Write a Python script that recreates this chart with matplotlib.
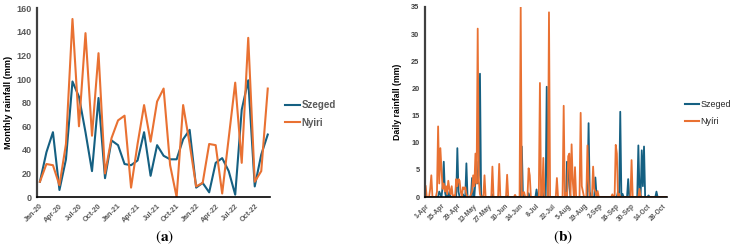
import matplotlib
matplotlib.use("Agg")
import matplotlib.pyplot as plt
from matplotlib.lines import Line2D

plt.rcParams['font.family'] = ['Liberation Sans', 'DejaVu Sans']
plt.rcParams['mathtext.fontset'] = 'stix'

# ---------------- data ----------------
months = ['Jan-20', 'Feb-20', 'Mar-20', 'Apr-20', 'May-20', 'Jun-20', 'Jul-20', 'Aug-20', 'Sep-20',
          'Oct-20', 'Nov-20', 'Dec-20', 'Jan-21', 'Feb-21', 'Mar-21', 'Apr-21', 'May-21', 'Jun-21',
          'Jul-21', 'Aug-21', 'Sep-21', 'Oct-21', 'Nov-21', 'Dec-21', 'Jan-22', 'Feb-22', 'Mar-22',
          'Apr-22', 'May-22', 'Jun-22', 'Jul-22', 'Aug-22', 'Sep-22', 'Oct-22', 'Nov-22', 'Dec-22']
szeged_monthly = [13, 38, 55, 6, 32, 98, 85, 55, 22, 84, 16, 48, 44, 28, 27, 31, 55, 18,
                  44, 35, 32, 32, 49, 57, 8, 12, 4, 29, 33, 22, 2, 74, 99, 9, 36, 53]
nyiri_monthly = [13, 28, 27, 10, 45, 151, 60, 139, 52, 122, 20, 50, 65, 69, 8, 45, 78, 47,
                 81, 92, 27, 0, 78, 45, 9, 12, 45, 44, 3, 50, 97, 29, 135, 13, 22, 92]

daily_tick_labels = ['1-Apr', '15-Apr', '29-Apr', '13-May', '27-May', '10-Jun', '24-Jun', '8-Jul',
                     '22-Jul', '5-Aug', '19-Aug', '2-Sep', '16-Sep', '30-Sep', '14-Oct', '28-Oct']

# daily rainfall, 1 Apr .. 31 Oct (rows of 14 days)
nyiri_daily = (
    [2.0, 0, 0, 0, 1.5, 4.0, 0, 0, 0, 0, 1.0, 13.0, 2.5, 9.0] +
    [5.0, 1.5, 2.5, 1.0, 2.0, 0.5, 3.0, 1.5, 0.5, 2.0, 0, 0.3, 0, 3.3] +
    [2.0, 3.3, 3.0, 1.0, 0, 1.8, 1.5, 1.8, 0.5, 0, 0, 0, 0.5, 1.0] +
    [4.0, 2.0, 8.0, 2.5, 31.0, 3.0, 0.5, 0, 0, 0, 4.0, 0, 0, 0] +
    [0, 0, 0, 5.6, 0, 0, 0, 0, 0, 6.1, 0, 0, 0, 0] +
    [0, 0, 4.1, 0, 0, 0, 0, 0, 0, 0.4, 0, 0, 0, 0] +
    [35.0, 0, 0.8, 0.9, 0, 0, 0, 5.3, 4.0, 0, 0, 0, 0, 0] +
    [0, 0, 0, 21.0, 0, 0, 7.2, 0, 0, 0, 0, 34.0, 0, 0] +
    [0, 0, 0, 0, 3.5, 0, 0, 0, 0, 0, 16.8, 0, 0.8, 0] +
    [7.5, 8.0, 0, 9.7, 3.0, 0, 5.5, 0, 0, 0, 0, 15.5, 2.0, 1.0] +
    [0, 0, 0, 9.5, 3.0, 0, 0, 0, 5.6, 1.5, 1.0, 0, 1.1, 0] +
    [0, 0, 0, 0, 0, 0, 0, 0, 0, 0, 0, 0.5, 0, 0] +
    [9.6, 8.0, 0, 0.6, 0, 0, 0, 0, 0, 0, 0, 0, 0, 0] +
    [6.8, 0, 0, 0, 0, 0, 0, 1.5, 0, 0, 0, 0, 0, 0] +
    [0, 0, 0, 0, 0, 0, 0, 0, 0, 0, 0, 0, 0, 0] +
    [0, 0, 0, 0]
)
szeged_daily = (
    [0, 0, 0, 0, 0, 0, 0, 0, 0, 0, 0, 0, 1.0, 0.5] +
    [0, 2.0, 6.5, 1.0, 0, 0.5, 0, 1.0, 0, 0, 0, 0, 0, 0] +
    [9.0, 1.0, 0, 0, 0, 0.5, 0, 0, 6.2, 0, 0, 0, 0, 3.5] +
    [0, 0, 3.0, 6.5, 2.5, 4.0, 22.7, 0.5, 0, 0, 0, 0, 0, 0] +
    [0, 0, 0, 0.5, 0, 0, 0, 0, 0, 0, 0, 0, 0, 0] +
    [0, 0, 0.3, 0, 0, 0, 0, 0, 0, 0, 0, 0, 0, 0] +
    [0, 9.3, 0, 0, 0, 0, 0, 0.7, 0, 0, 0, 0, 0, 0] +
    [1.4, 0, 0, 0, 0, 1.6, 0, 0, 0, 20.3, 0, 0, 0, 0] +
    [0, 0, 0, 0, 0, 0, 0, 0, 0, 0, 0, 0, 0, 6.5] +
    [5.0, 2.0, 0, 0, 0, 0, 0, 0, 0, 0, 0, 0, 0, 0] +
    [0, 0, 0, 0, 13.6, 1.0, 0, 0, 0, 0, 3.6, 0.5, 0, 0] +
    [0, 0, 0, 0, 0, 0, 0, 0, 0, 0, 0, 0, 0, 0] +
    [0, 0, 1.0, 0, 15.7, 0, 0.6, 0, 0, 0, 0, 3.3, 0, 0] +
    [0, 0, 0, 0, 0, 0, 9.5, 1.0, 0, 8.6, 2.0, 9.3, 0, 0] +
    [0, 0.3, 0, 0, 0, 0, 0, 0, 1.0, 0, 0, 0, 0, 0] +
    [0, 0, 0, 0]
)

BLUE = '#156082'
ORANGE = '#E97132'
GRAY = '#595959'

fig = plt.figure(figsize=(7.34, 2.46), dpi=100)

def style_axes(ax, tick_size, bold):
    for s in ['top', 'right']:
        ax.spines[s].set_visible(False)
    ax.spines['left'].set_color('#404040')
    ax.spines['left'].set_linewidth(1.6)
    ax.spines['bottom'].set_color('black')
    ax.spines['bottom'].set_linewidth(1.2)
    ax.tick_params(axis='both', length=0, labelsize=tick_size, colors=GRAY, pad=4)
    for lab in ax.get_xticklabels() + ax.get_yticklabels():
        lab.set_fontweight('bold' if bold else 'normal')

# ---------------- panel (a) ----------------
ax1 = fig.add_axes([0.0504, 0.199, 0.3175, 0.767])
x = list(range(len(months)))
ax1.plot(x, szeged_monthly, color=BLUE, lw=1.5, label='Szeged')
ax1.plot(x, nyiri_monthly, color=ORANGE, lw=1.5, label='Nyiri')
ax1.set_xlim(-0.45, 35.35)
ax1.set_ylim(0, 160)
ax1.set_yticks(range(0, 161, 20))
ax1.set_xticks(x[::3])
ax1.set_xticklabels(months[::3], rotation=45, ha='right', rotation_mode='anchor')
style_axes(ax1, 5.2, True)
ax1.tick_params(axis='y', labelsize=6.5)
ax1.set_ylabel('Monthly rainfall (mm)', fontsize=6.6, fontweight='bold')
ax1.yaxis.set_label_coords(-0.105, 0.5)
leg1 = fig.legend(handles=[Line2D([], [], color=BLUE, lw=1.5), Line2D([], [], color=ORANGE, lw=1.5)],
                  labels=['Szeged', 'Nyiri'], loc='center left', bbox_to_anchor=(285 / 734, 0.537),
                  frameon=False, borderpad=0, borderaxespad=0,
                  handlelength=1.55, handletextpad=0.15, labelspacing=0.75,
                  prop={'size': 7, 'weight': 'bold'})
for t in leg1.get_texts():
    t.set_color(GRAY)

# ---------------- panel (b) ----------------
ax2 = fig.add_axes([0.579, 0.199, 0.330, 0.773])
d = list(range(len(nyiri_daily)))
ax2.plot(d, szeged_daily, color=BLUE, lw=1.3, label='Szeged')
ax2.plot(d, nyiri_daily, color=ORANGE, lw=1.3, label='Nyíri')
ax2.set_xlim(-0.6, 213.5)
ax2.set_ylim(0, 35)
ax2.set_yticks(range(0, 36, 5))
ax2.set_xticks(d[::14])
ax2.set_xticklabels(daily_tick_labels, rotation=45, ha='right', rotation_mode='anchor')
style_axes(ax2, 4.8, True)
ax2.tick_params(axis='y', labelsize=5.3, colors='#404040')
ax2.set_ylabel('Daily rainfall (mm)', fontsize=6.3, fontweight='bold')
ax2.yaxis.set_label_coords(-0.095, 0.5)
leg2 = fig.legend(handles=[Line2D([], [], color=BLUE, lw=1.5), Line2D([], [], color=ORANGE, lw=1.5)],
                  labels=['Szeged', 'Nyíri'], loc='center left', bbox_to_anchor=(685 / 734, 0.54),
                  frameon=False, borderpad=0, borderaxespad=0,
                  handlelength=1.6, handletextpad=0.15, labelspacing=0.85,
                  prop={'size': 6.4})
for t in leg2.get_texts():
    t.set_color('#262626')

# ---------------- captions ----------------
fig.text(165 / 734, 1 - 237 / 246, r'$(\mathbf{a})$', ha='center', va='center', fontsize=11)
fig.text(563 / 734, 1 - 237 / 246, r'$(\mathbf{b})$', ha='center', va='center', fontsize=11)

fig.savefig('out.png', dpi=100)
